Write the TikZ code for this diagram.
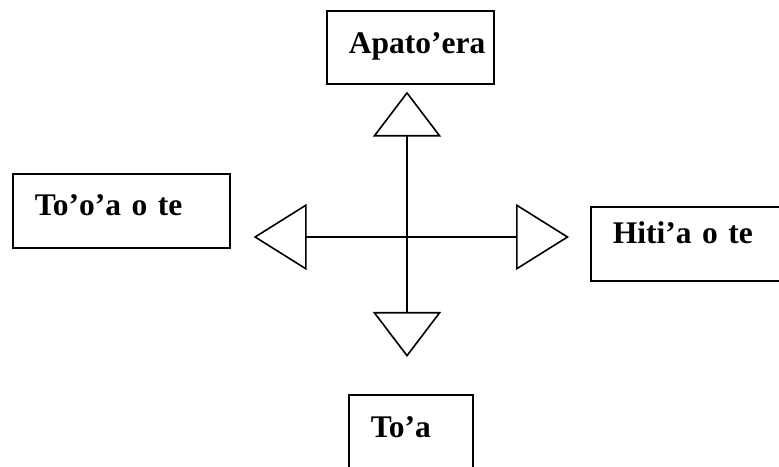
\documentclass[tikz,border=0pt]{standalone}
\usepackage{fontspec}
\setmainfont{Liberation Serif}
\usetikzlibrary{arrows.meta}

\begin{document}
\begin{tikzpicture}[
    x=1pt, y=1pt,
    dirbox/.style={draw, line width=1.6pt, anchor=north west, inner xsep=22pt, inner ysep=0pt, align=left, font=\bfseries\fontsize{31.5}{36}\selectfont},
    vdir/.style={line width=1.6pt, -{Triangle[open, length=45pt, width=68pt]}},
    hdir/.style={line width=1.6pt, -{Triangle[open, length=53pt, width=66pt]}}
  ]
  \useasboundingbox (0,0) rectangle (779,466);
  \clip (0,0) rectangle (779,466);

  % the four directions
  \node[dirbox, text width=123pt, text height=43pt, text depth=30pt] (apatoera) at (326,456) {Apato’era};
  \node[dirbox, text width=173pt, text height=42pt, text depth=32pt] (tooa) at (12,293) {To’o’a o te};
  \node[dirbox, text width=166pt, text height=37pt, text depth=37pt] (hitia) at (590,260) {Hiti’a o te};
  \node[dirbox, text width=80pt, text height=43pt, text depth=45pt] (toa) at (348,72) {To’a};

  \coordinate (hub) at (407,229);

  \draw[vdir, shorten >=7pt] (hub) -- (hub |- apatoera.south);
  \draw[vdir, shorten >=37pt] (hub) -- (hub |- toa.north);
  \draw[hdir, shorten >=23pt] (hub) -- (hub -| tooa.east);
  \draw[hdir, shorten >=21pt] (hub) -- (hub -| hitia.west);
\end{tikzpicture}
\end{document}
